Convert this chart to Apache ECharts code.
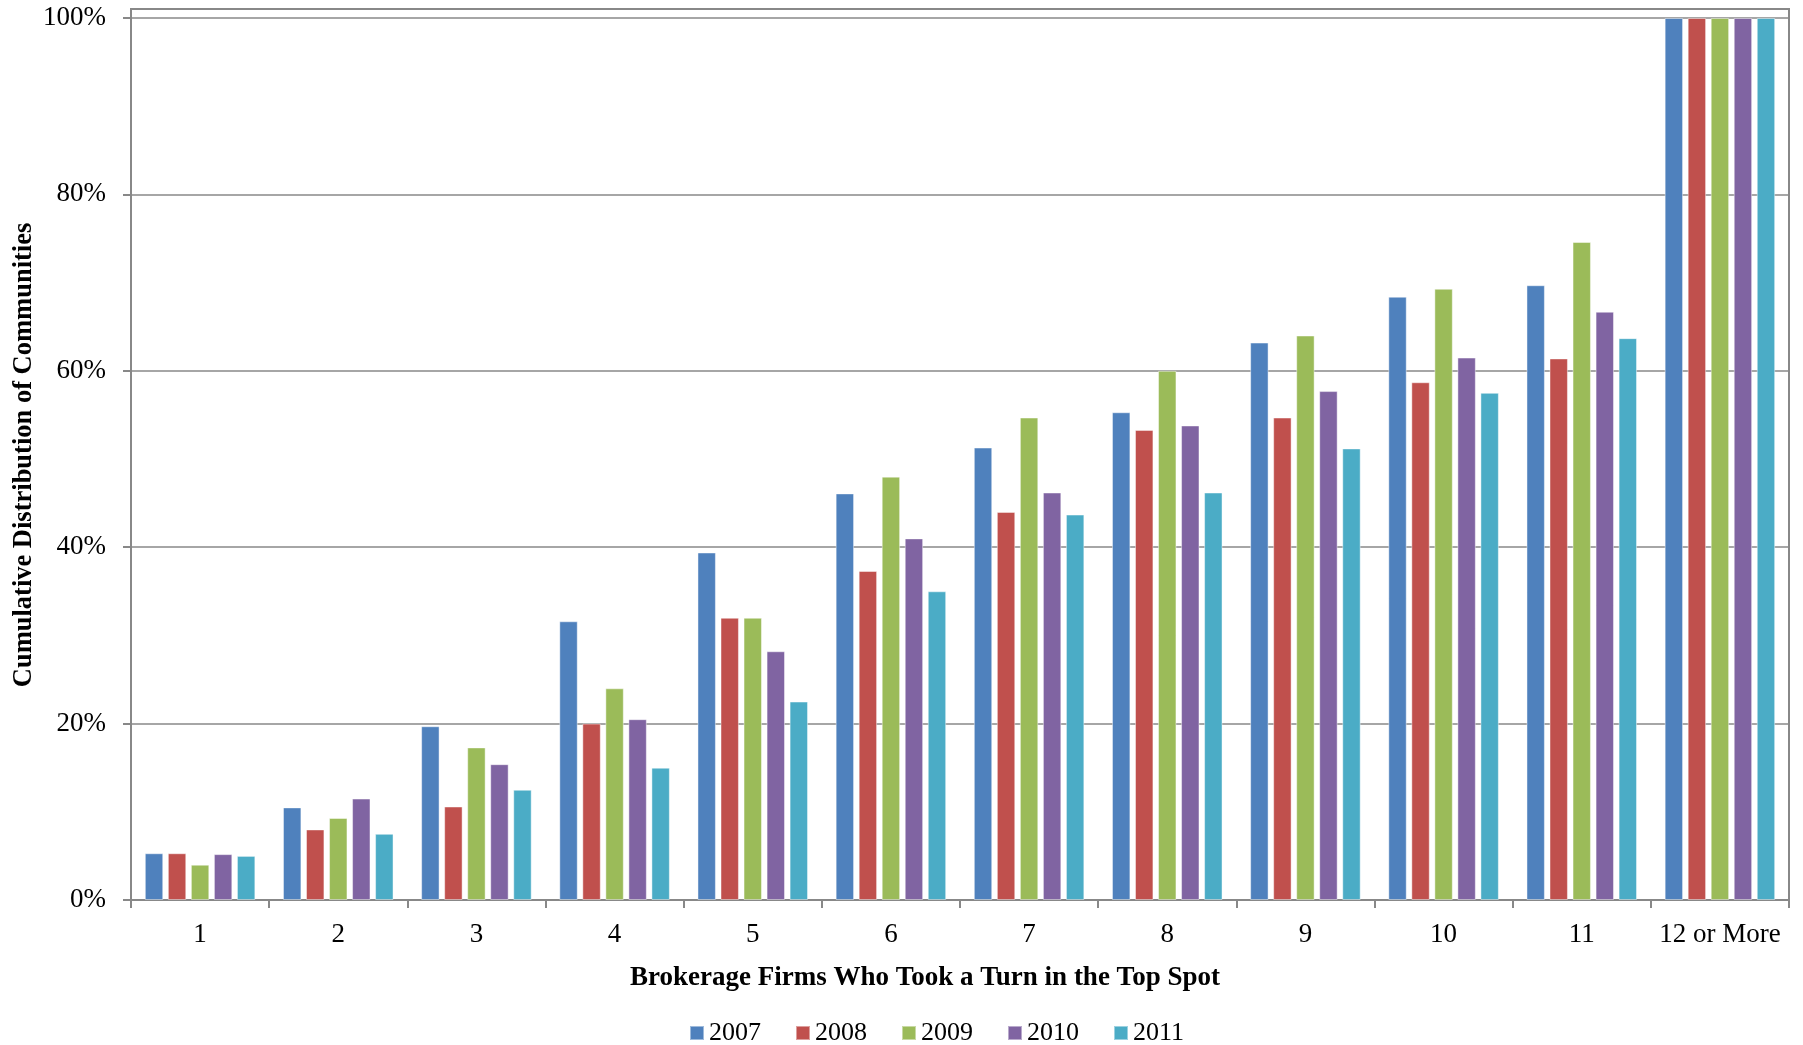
<!DOCTYPE html>
<html>
<head>
<meta charset="utf-8">
<script src="https://cdn.jsdelivr.net/npm/echarts@6/dist/echarts.min.js"></script>
<style>
  html, body { margin: 0; padding: 0; background: #fff; }
  #chart { width: 1803px; height: 1045px; }
</style>
</head>
<body>
<div id="chart"></div>
<script>
// Number of brokerage firms that held the top spot (cumulative share of communities)
const categories = ['1', '2', '3', '4', '5', '6', '7', '8', '9', '10', '11', '12 or More'];
const years = ['2007', '2008', '2009', '2010', '2011'];

const y2007 = [5.3, 10.5, 19.7, 31.6, 39.4, 46.1, 51.3, 55.3, 63.2, 68.4, 69.7, 100];
const y2008 = [5.3, 8.0, 10.6, 20.0, 32.0, 37.3, 44.0, 53.3, 54.7, 58.7, 61.4, 100];
const y2009 = [4.0, 9.3, 17.3, 24.0, 32.0, 48.0, 54.7, 60.0, 64.0, 69.3, 74.6, 100];
const y2010 = [5.2, 11.5, 15.4, 20.5, 28.2, 41.0, 46.2, 53.8, 57.7, 61.5, 66.7, 100];
const y2011 = [5.0, 7.5, 12.5, 15.0, 22.5, 35.0, 43.7, 46.2, 51.2, 57.5, 63.7, 100];

const yTicks = [0, 20, 40, 60, 80, 100];

const palette = ['#4F81BD', '#C0504D', '#9BBB59', '#8064A2', '#4BACC6'];
const seriesValues = [y2007, y2008, y2009, y2010, y2011];

const FONT = '"Liberation Serif", "Times New Roman", serif';
const GREY = '#888888';

const chart = echarts.init(document.getElementById('chart'), null, { renderer: 'canvas' });

const plot = { left: 131, right: 14, top: 18, bottom: 145 };

chart.setOption({
  animation: false,
  backgroundColor: '#ffffff',
  color: palette,
  textStyle: { fontFamily: FONT, color: '#000' },
  grid: { left: plot.left, right: plot.right, top: plot.top, bottom: plot.bottom, containLabel: false },
  legend: {
    data: years,
    left: 684,
    top: 1015,
    itemWidth: 14,
    itemHeight: 14,
    itemGap: 34,
    icon: 'rect',
    textStyle: { fontFamily: FONT, fontSize: 26, color: '#000' }
  },
  xAxis: {
    type: 'category',
    data: categories,
    boundaryGap: true,
    axisLine: { lineStyle: { color: GREY, width: 2 } },
    axisTick: { show: true, interval: 0, length: 8, lineStyle: { color: GREY, width: 2 } },
    axisLabel: { interval: 0, fontFamily: FONT, fontSize: 27, color: '#000', margin: 21 }
  },
  yAxis: {
    type: 'value',
    min: yTicks[0],
    max: yTicks[yTicks.length - 1],
    interval: 20,
    axisLine: { show: true, lineStyle: { color: GREY, width: 2 } },
    axisTick: { show: true, length: 8, lineStyle: { color: GREY, width: 2 } },
    splitLine: { show: true, lineStyle: { color: GREY, width: 1.5 } },
    axisLabel: {
      fontFamily: FONT, fontSize: 27, color: '#000', margin: 25,
      formatter: v => v + '%'
    }
  },
  series: years.map((y, i) => ({
    name: y,
    type: 'bar',
    data: seriesValues[i],
    barGap: '25%',
    barCategoryGap: '20%',
    itemStyle: { color: palette[i], borderColor: 'rgba(255,255,255,0.45)', borderWidth: 1 }
  })),
  graphic: [
    {
      // outer frame of the plot area
      type: 'rect',
      shape: { x: 131, y: 9, width: 1658, height: 891 },
      style: { fill: 'none', stroke: GREY, lineWidth: 2 },
      silent: true,
      z: 0
    },
    {
      type: 'text',
      x: 925,
      y: 978,
      style: {
        text: 'Brokerage Firms Who Took a Turn in the Top Spot',
        fontFamily: FONT, fontSize: 27, fontWeight: 'bold', fill: '#000',
        textAlign: 'center', textVerticalAlign: 'middle'
      }
    },
    {
      type: 'text',
      x: 24,
      y: 455,
      rotation: Math.PI / 2,
      style: {
        text: 'Cumulative Distribution of Communities',
        fontFamily: FONT, fontSize: 26.5, fontWeight: 'bold', fill: '#000',
        textAlign: 'center', textVerticalAlign: 'middle'
      }
    }
  ]
});
</script>
</body>
</html>
